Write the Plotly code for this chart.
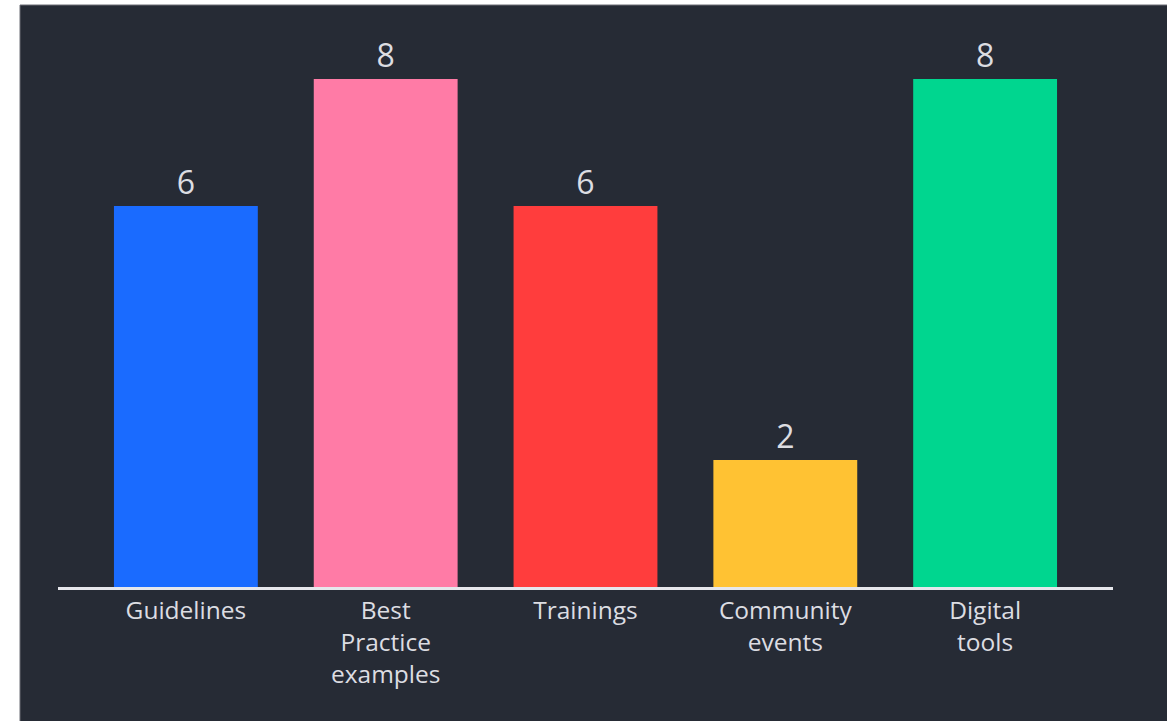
import plotly.graph_objects as go

categories = ["Guidelines", "Best<br>Practice<br>examples", "Trainings", "Community<br>events", "Digital<br>tools"]
values = [6, 8, 6, 2, 8]
colors = ["#1a6bff", "#ff7ba6", "#ff3d3d", "#ffc233", "#00d68f"]

BG = "#262b35"
TXT = "#dcdde2"
FONT = "Open Sans, Lato, sans-serif"

W, H = 1167, 721
L, R, T, B = 58, 54, 20, 134
pw, ph = W - L - R, H - T - B

fig = go.Figure(go.Bar(
    x=categories, y=values,
    marker=dict(color=colors, line=dict(width=0)),
    text=[str(v) for v in values],
    textposition="outside",
    textfont=dict(family=FONT, size=32, color=TXT),
    cliponaxis=False,
    width=0.72,
))

fig.add_shape(type="rect", xref="paper", yref="paper",
              x0=(20 - L) / pw, x1=(W + 5 - L) / pw,
              y0=-(H + 5 - (T + ph)) / ph, y1=(T + ph - 5) / ph,
              fillcolor=BG, line=dict(color="#6a6d75", width=1), layer="below")

fig.update_layout(
    width=W, height=H,
    margin=dict(l=L, r=R, t=T, b=B, pad=0),
    paper_bgcolor="white",
    plot_bgcolor="rgba(0,0,0,0)",
    showlegend=False,
    xaxis=dict(range=[-0.64, 4.64], showline=True, linecolor="#e6e7ec", linewidth=3,
               showgrid=False, zeroline=False, ticks="", ticklabelstandoff=0,
               tickfont=dict(family=FONT, size=24.5, color=TXT)),
    yaxis=dict(range=[0, 8.93], visible=False, showgrid=False, zeroline=False),
)

fig.write_html("out.html",
               config={"displayModeBar": False},
               post_script="document.body.style.margin='0';document.body.style.overflow='hidden';")
